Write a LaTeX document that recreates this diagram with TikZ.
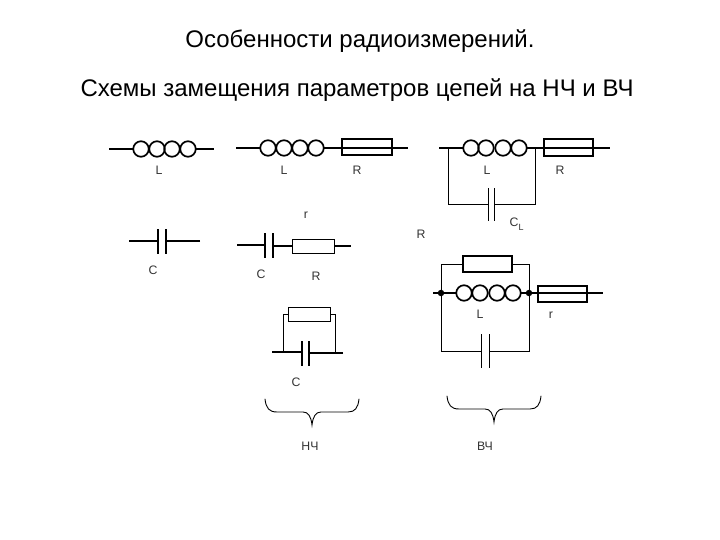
\documentclass[tikz,border=0pt]{standalone}
\usepackage{fontspec}
\setmainfont{Liberation Sans}
\newcommand{\coilat}[6]{%
  \node[turn] (#1a) at (#2,#6) {};
  \node[turn] (#1b) at (#3,#6) {};
  \node[turn] (#1c) at (#4,#6) {};
  \node[turn] (#1d) at (#5,#6) {};
}
\tikzset{
  x=1pt,y=-1pt,
  turn/.style={circle,draw,line width=1.7pt,minimum size=15.5pt,inner sep=0pt,outer sep=0pt},
  wire/.style={line width=1pt},
  hwire/.style={line width=1.8pt},
  boldres/.style={rectangle,draw,line width=1.6pt,inner sep=0pt,outer sep=0pt},
  thinres/.style={rectangle,draw,line width=.8pt,inner sep=0pt,outer sep=0pt},
  plate/.style={rectangle,fill=black,inner sep=0pt,outer sep=0pt,minimum width=#1},
  plate/.default=1.6pt,
  lab/.style={inner sep=0pt,font=\fontsize{12.3}{14}\selectfont,text=black!80},
  headline/.style={inner sep=0pt,font=\fontsize{24}{28}\selectfont},
  dot/.style={circle,fill=black,minimum size=6.5pt,inner sep=0pt,outer sep=0pt},
  brace/.style={line width=.9pt,line cap=round},
}
\begin{document}
\begin{tikzpicture}
\useasboundingbox (0,0) rectangle (720,540);
\node[headline] (t1) at (360,41) {Особенности радиоизмерений.};
\node[headline] (t2) at (357,90) {Схемы замещения параметров цепей на НЧ и ВЧ};

% coil 1
\coilat{a}{141}{157}{172}{188}{149}
\coordinate (a0) at (109,149); \coordinate (a9) at (214,149);
\draw[hwire] (a0) -- (aa); \draw[hwire] (ad) -- (a9);
\node[lab] (la) at (159,170) {L};

% coil 2 with R
\coilat{b}{268}{284}{300}{316}{148}
\coordinate (b0) at (236,148); \coordinate (b9) at (408,148);
\node[boldres,minimum width=50pt,minimum height=16pt] (br) at (367,147) {};
\draw[hwire] (b0) -- (ba); \draw[hwire] (bd) -- (b9);
\node[lab] (lb) at (284,170) {L};
\node[lab] (lbr) at (357,170) {R};

% coil 3 with R and parallel C
\coilat{c}{471}{486}{503}{519}{148}
\coordinate (c0) at (439,148); \coordinate (c9) at (610,148);
\node[boldres,minimum width=49pt,minimum height=17pt] (cr) at (568.5,147.5) {};
\draw[hwire] (c0) -- (ca); \draw[hwire] (cd) -- (c9);
\coordinate (cl) at (448,148); \coordinate (crr) at (535,148);
\node[plate=1pt,minimum height=33pt] (cp1) at (488,204.5) {};
\node[plate=1pt,minimum height=33pt] (cp2) at (494,204.5) {};
\draw[wire] (cl) |- (cp1);
\draw[wire] (crr) |- (cp2);
\node[lab] (lc) at (487,170) {L};
\node[lab] (lcr) at (560,170) {R};
\node[lab] (lcc) at (514,222) {C};
\node[lab,font=\fontsize{9}{10}\selectfont] (lcs) at (521,227) {L};

% C alone
\node[plate=1.4pt,minimum height=25pt] (dp1) at (158,241.5) {};
\node[plate=2.4pt,minimum height=25pt] (dp2) at (166,241.5) {};
\coordinate (d0) at (129,241); \coordinate (d9) at (200,241);
\draw[hwire] (d0) -- (d0-|dp1); \draw[hwire] (d9) -- (d9-|dp2);
\node[lab] (ld) at (153,270) {C};

% C with r
\node[plate=1.6pt,minimum height=25pt] (ep1) at (265,245.5) {};
\node[plate=1.6pt,minimum height=25pt] (ep2) at (273,245.5) {};
\node[thinres,minimum width=42pt,minimum height=14pt] (er) at (313,246) {};
\coordinate (e0) at (237,245); \coordinate (e9) at (351,246);
\draw[hwire] (e0) -- (e0-|ep1);
\draw[hwire] (er-|ep2) -- (er);
\draw[hwire] (er) -- (e9);
\node[lab] (ler) at (306,215) {r};
\node[lab] (le) at (261,274) {C};
\node[lab] (leR) at (316,276) {R};

\node[lab] (lR) at (421,234) {R};

% LF parallel RC
\node[thinres,minimum width=42pt,minimum height=14pt] (fr) at (309,314) {};
\node[plate=1.6pt,minimum height=25pt] (fp1) at (302,353.5) {};
\node[plate=1.6pt,minimum height=25pt] (fp2) at (309,353.5) {};
\coordinate (f0) at (272,352); \coordinate (f9) at (343,353);
\coordinate (fl) at (283,352); \coordinate (frr) at (335,353);
\draw[hwire] (f0) -- (f0-|fp1);
\draw[hwire] (f9) -- (f9-|fp2);
\draw[wire] (fr.west) -| (fl);
\draw[wire] (fr.east) -| (frr);
\node[lab] (lf) at (296,382) {C};

% HF
\coilat{g}{464}{480}{497}{513}{293}
\node[dot] (gl) at (441,293) {};
\node[dot] (gm) at (529,293) {};
\coordinate (g0) at (433,293); \coordinate (g9) at (603,293);
\node[boldres,minimum width=49pt,minimum height=16pt] (gr) at (562.5,294) {};
\draw[hwire] (g0) -- (ga); \draw[hwire] (gd) -- (g9);
\node[boldres,line width=1.4pt,minimum width=49pt,minimum height=16pt] (gt) at (487.5,264) {};
\node[plate=1pt,minimum height=34pt] (gp1) at (481,351) {};
\node[plate=1pt,minimum height=34pt] (gp2) at (489,351) {};
\draw[wire] (gl) |- (gt.west);
\draw[wire] (gm) |- (gt.east);
\draw[wire] (gl) |- (gp1);
\draw[wire] (gm) |- (gp2);
\node[lab] (lg) at (480,314) {L};
\node[lab] (lgr) at (551,315) {r};

% braces
\coordinate (h1) at (265,399); \coordinate (h2) at (359,399); \coordinate (h3) at (312,425);
\draw[brace] (h1) .. controls (266,408) and (269,412) .. (277,412) -- (303,412)
  .. controls (308,412) and (311,416) .. (h3)
  .. controls (313,416) and (316,412) .. (321,412) -- (348,412)
  .. controls (355,412) and (358,408) .. (h2);
\node[lab] (ln) at (310,446) {НЧ};
\coordinate (k1) at (447,396); \coordinate (k2) at (541,396); \coordinate (k3) at (494,422);
\draw[brace] (k1) .. controls (448,405) and (451,409) .. (459,409) -- (485,409)
  .. controls (490,409) and (493,413) .. (k3)
  .. controls (495,413) and (498,409) .. (503,409) -- (530,409)
  .. controls (537,409) and (540,405) .. (k2);
\node[lab] (lv) at (485,446) {ВЧ};
\end{tikzpicture}
\end{document}
